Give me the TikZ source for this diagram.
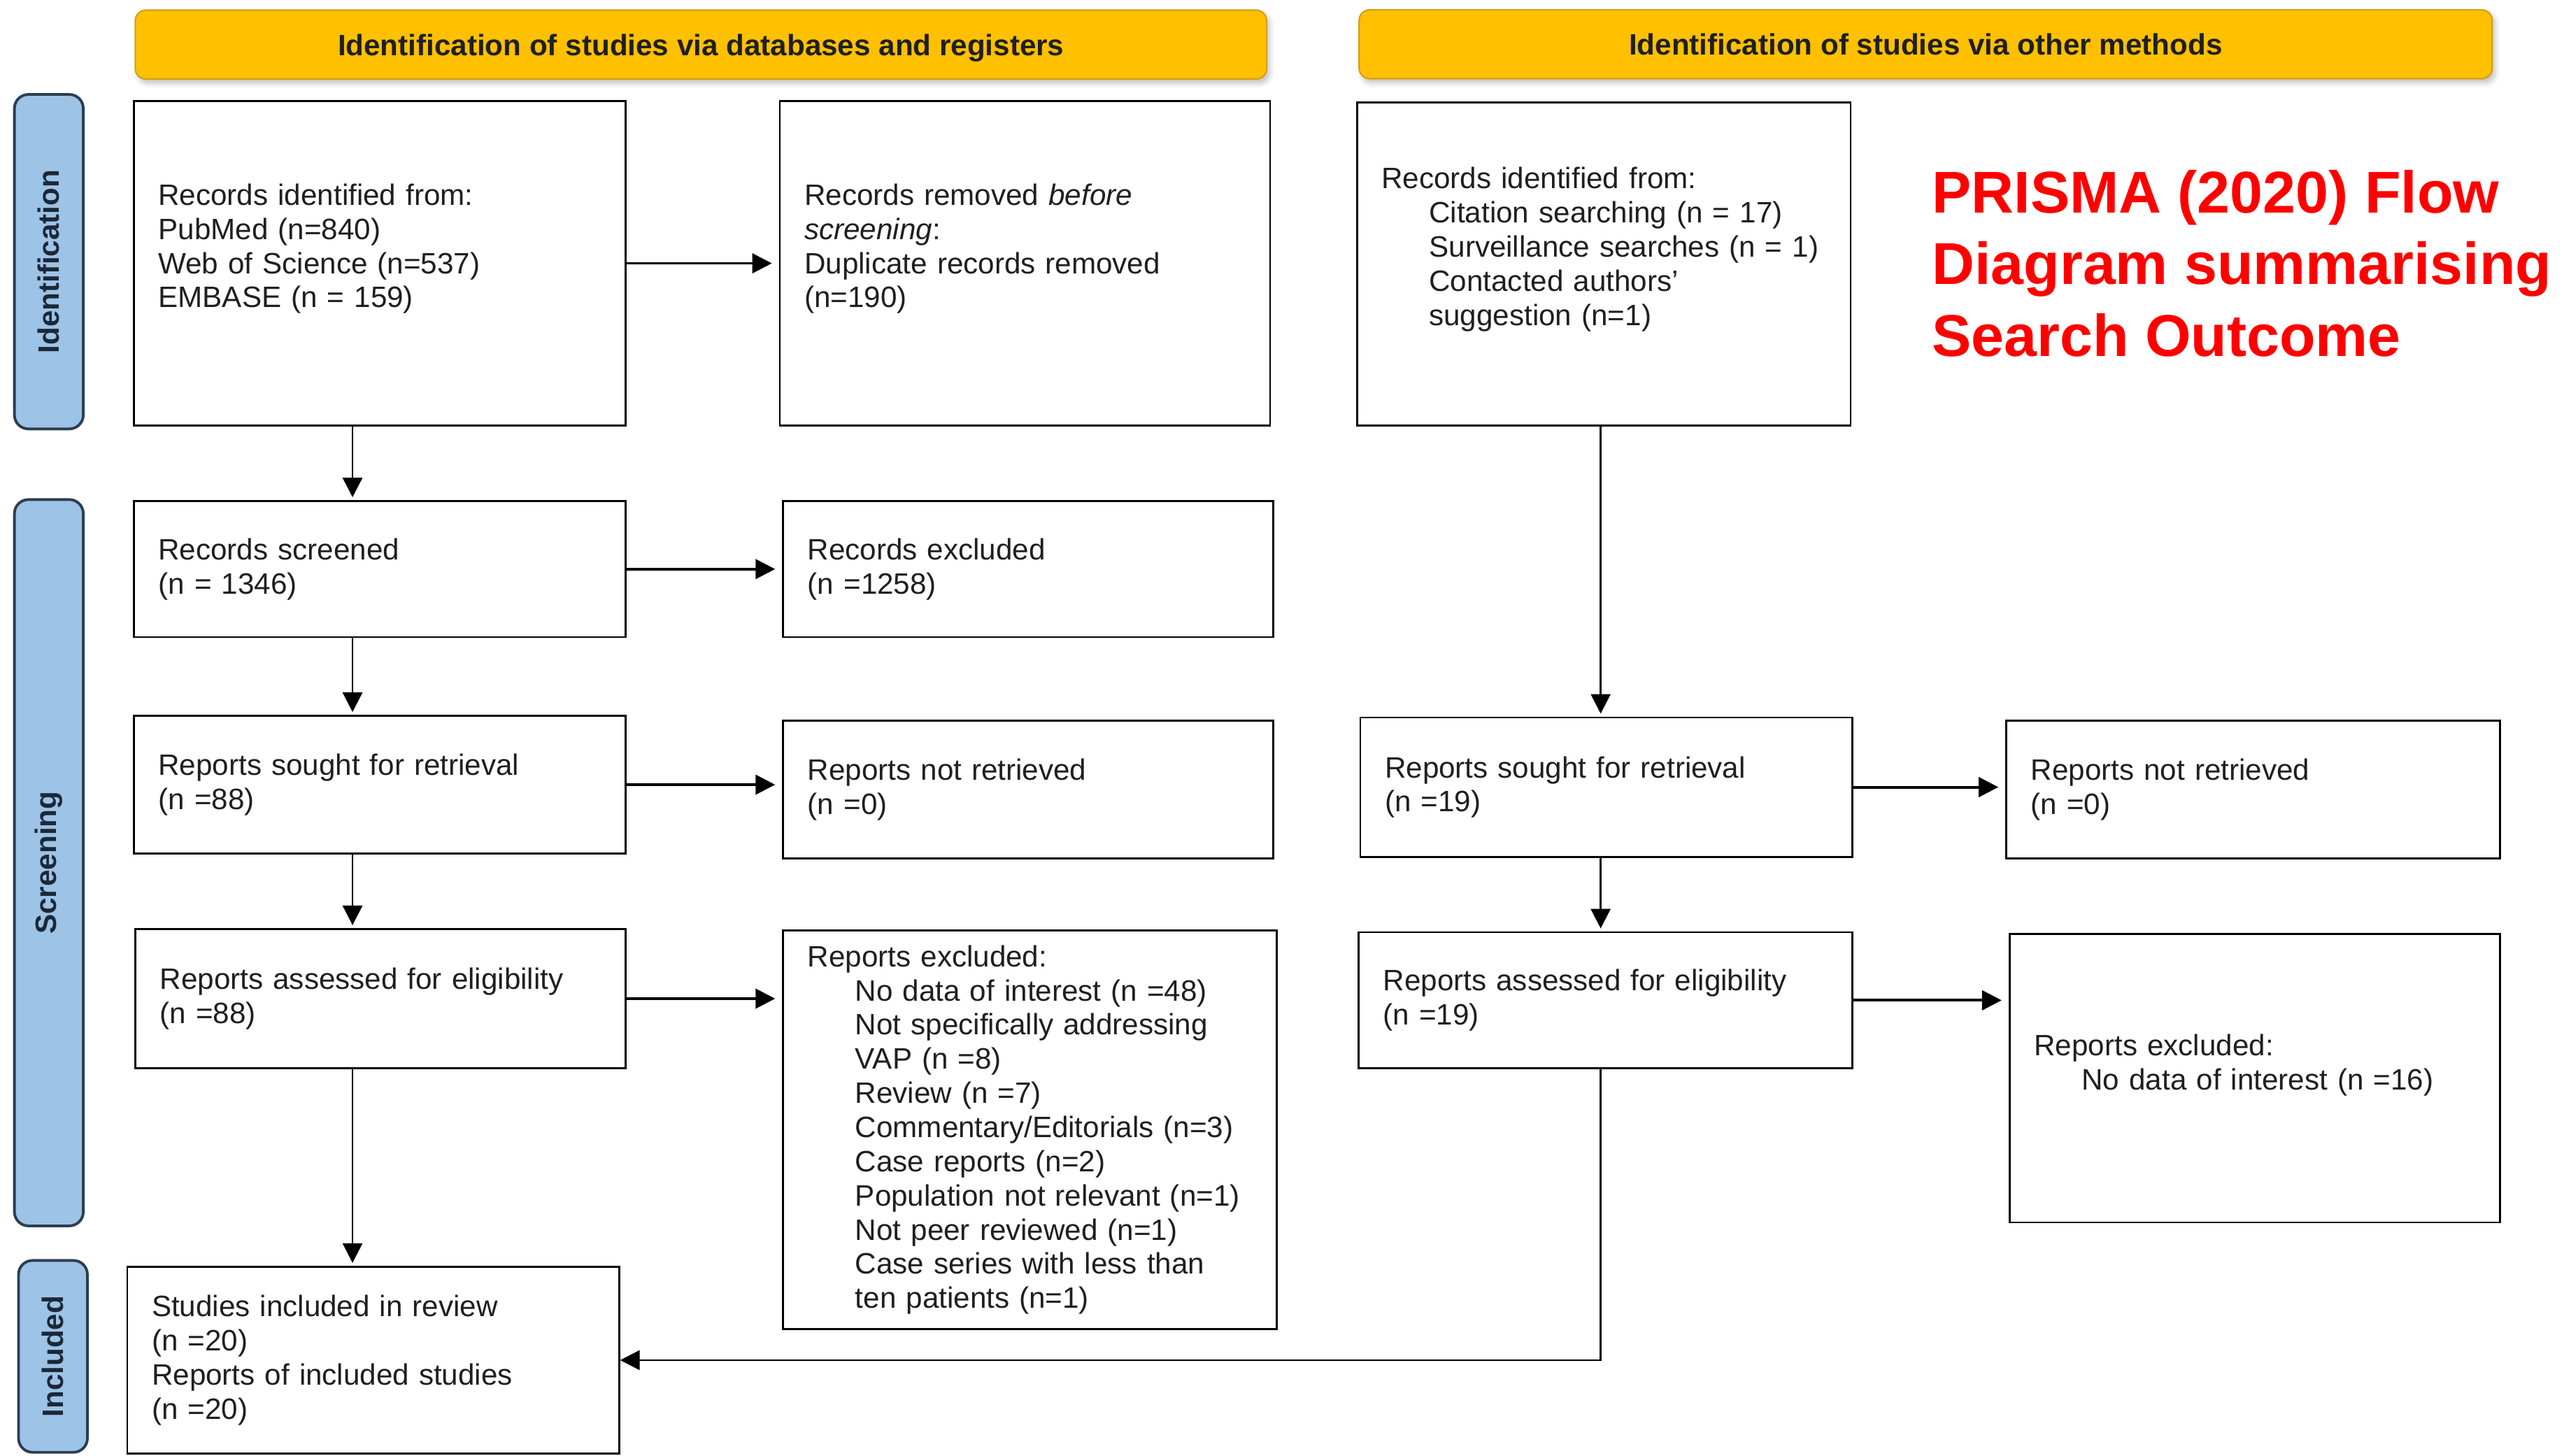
\documentclass[tikz,border=0pt]{standalone}
\usepackage{fontspec}
\setmainfont{Liberation Sans}
\usepackage{xcolor}
\usepackage{tikz}
\usetikzlibrary{shadows.blur,positioning,arrows.meta,calc}
\definecolor{ink}{HTML}{1F1F1F}
\definecolor{banner}{HTML}{FFC000}
\definecolor{bannerline}{HTML}{D49E17}
\definecolor{stage}{HTML}{9DC3E6}
\definecolor{stageline}{HTML}{2C3E50}
\definecolor{stageink}{HTML}{1B2838}
\definecolor{titlered}{HTML}{FF0000}
\newcommand\uu{0.2344mm}
\newcommand\indentrow{\hspace*{6.8mm}}

\tikzset{
  box/.style={draw=black, line width=0.8pt, fill=white, anchor=north west,
    inner xsep={15*\uu}, inner ysep=0pt, align=left, text=ink,
    font=\fontsize{12}{13.9}\selectfont},
  boxsize/.style n args={2}{minimum width={#1*\uu}, minimum height={#2*\uu},
    text width={(#1-30)*\uu}},
  banner/.style={draw=bannerline, line width=0.6pt, fill=banner, rounded corners=1.5mm,
    minimum height={42*\uu}, text=ink, font=\fontsize{12}{14}\selectfont\bfseries,
    text height=8.7pt, text depth=0pt,
    blur shadow={shadow blur steps=5, shadow xshift=0.4mm, shadow yshift=-0.6mm, shadow opacity=25}},
  stagebox/.style={draw=stageline, line width=1.1pt, fill=stage, rounded corners=2mm,
    minimum height={42*\uu}, text=stageink, font=\fontsize{12}{14}\selectfont\bfseries},
  headline/.style={anchor=north west, inner sep=0pt, align=left, text=titlered,
    font=\fontsize{24}{29.2}\selectfont\bfseries},
  arr/.style={-{Triangle[length=2.8mm, width=2.8mm]}, line width=0.8pt, draw=black,
    shorten >=0.4mm},
  harr/.style={arr, line width=1.1pt, shorten >=1mm}
}

\begin{document}
\begin{tikzpicture}[x=0.2344mm, y=-0.2344mm]
\useasboundingbox (0,0) rectangle (1568,887.7);

% phase bars down the left side
\node[stagebox, minimum width={204*\uu}, rotate=90] (sid) at (29.8,159.6) {Identification};
\node[stagebox, minimum width={443*\uu}, rotate=90] (sscr) at (29.8,526.2) {Screening};
\node[stagebox, minimum width={117*\uu}, rotate=90] (sinc) at (32.3,827.3) {Included};

% column headers
\node[banner, minimum width={690*\uu}] (hdb) at (427.5,27.2) {Identification of studies via databases and registers};
\node[banner, minimum width={691*\uu}] (hoth) at (1174.4,27) {Identification of studies via other methods};

% databases and registers
\node[box, boxsize={300}{198}, text depth=56pt] (recid) at (81,61) {Records identified from:\\PubMed (n=840)\\Web of Science (n=537)\\EMBASE (n = 159)};
\node[box, boxsize={299}{198}, text depth=56pt] (recrem) at (475,61) {Records removed \emph{before}\\\emph{screening}:\\Duplicate records removed\\(n=190)};
\node[box, boxsize={300}{83}] (recscr) at (81,305) {Records screened\\(n = 1346)};
\node[box, boxsize={299}{83}] (recexc) at (477,305) {Records excluded\\(n =1258)};
\node[box, boxsize={300}{84}] (repsou) at (81,436) {Reports sought for retrieval\\(n =88)};
\node[box, boxsize={299}{84}] (repnot) at (477,439) {Reports not retrieved\\(n =0)};
\node[box, boxsize={299}{85}] (repass) at (82,566) {Reports assessed for eligibility\\(n =88)};
\node[box, boxsize={301}{243}] (repexc) at (477,567) {Reports excluded:\\
  \indentrow No data of interest (n =48)\\
  \indentrow Not specifically addressing\\
  \indentrow VAP (n =8)\\
  \indentrow Review (n =7)\\
  \indentrow Commentary/Editorials (n=3)\\
  \indentrow Case reports (n=2)\\
  \indentrow Population not relevant (n=1)\\
  \indentrow Not peer reviewed (n=1)\\
  \indentrow Case series with less than\\
  \indentrow ten patients (n=1)};
\node[box, boxsize={300}{114}] (incl) at (77,772) {Studies included in review\\(n =20)\\Reports of included studies\\(n =20)};

% other methods
\node[box, boxsize={301}{197}, text depth=70pt] (othid) at (827,62) {Records identified from:\\
  \indentrow Citation searching (n = 17)\\
  \indentrow Surveillance searches (n = 1)\\
  \indentrow Contacted authors'\\
  \indentrow suggestion (n=1)};
\node[box, boxsize={300}{85}] (othsou) at (829,437) {Reports sought for retrieval\\(n =19)};
\node[box, boxsize={301}{84}] (othnot) at (1223,439) {Reports not retrieved\\(n =0)};
\node[box, boxsize={301}{83}] (othass) at (828,568) {Reports assessed for eligibility\\(n =19)};
\node[box, boxsize={299}{176}, text depth=27pt] (othexc) at (1225,569) {Reports excluded:\\
  \indentrow No data of interest (n =16)};

\node[headline] (title) at (1178,103.4) {PRISMA (2020) Flow\\Diagram summarising\\Search Outcome};

% connectors
\coordinate (lx) at (215,0);
\coordinate (rx) at (976.2,0);
\draw[arr] (recid.south -| lx) -- (recscr.north -| lx);
\draw[arr] (recscr.south -| lx) -- (repsou.north -| lx);
\draw[arr] (repsou.south -| lx) -- (repass.north -| lx);
\draw[arr] (repass.south -| lx) -- (incl.north -| lx);
\draw[harr] (recid.east) -- (recid.east -| recrem.west);
\draw[harr] (recscr.east) -- (recscr.east -| recexc.west);
\draw[harr] (repsou.east) -- (repsou.east -| repnot.west);
\draw[harr] (repass.east) -- (repass.east -| repexc.west);
\draw[arr] (othid.south -| rx) -- (othsou.north -| rx);
\draw[arr] (othsou.south -| rx) -- (othass.north -| rx);
\draw[harr] (othsou.east) -- (othsou.east -| othnot.west);
\draw[harr] (othass.east) -- (othass.east -| othexc.west);
\draw[arr, shorten >=0pt] (othass.south -| rx) |- (incl.east);
\end{tikzpicture}
\end{document}
